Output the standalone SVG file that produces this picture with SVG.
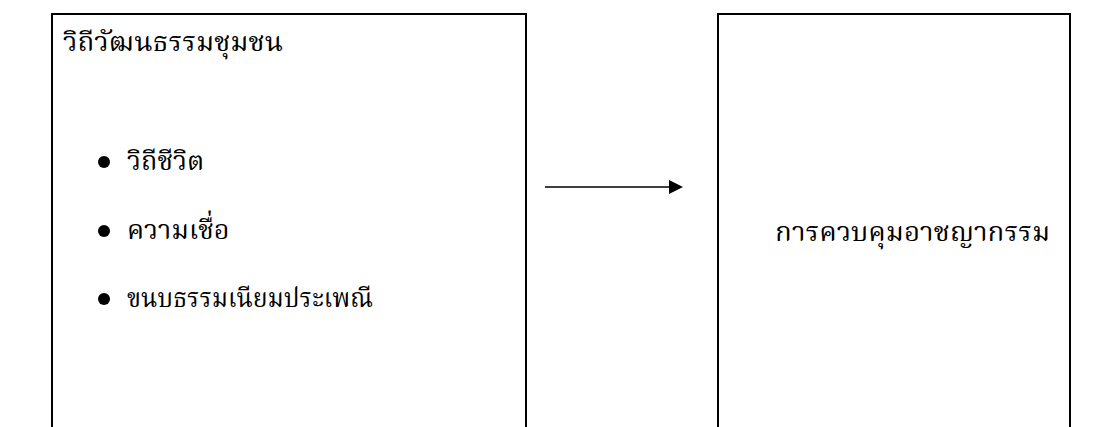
<svg xmlns="http://www.w3.org/2000/svg" width="1120" height="427" viewBox="0 0 1120 427">
<defs>
<style>
.box{fill:none;stroke:#000;stroke-width:2}
.t{font-family:"Noto Serif Thai","Noto Sans Thai","Liberation Serif",serif;font-size:27px;fill:#000}
</style>
<marker id="ah" markerWidth="14" markerHeight="14" refX="0" refY="7" orient="auto" markerUnits="userSpaceOnUse">
<path d="M0,0 L14,7 L0,14 Z" fill="#000"/>
</marker>
</defs>
<rect width="1120" height="427" fill="#fff"/>
<g id="node-left">
<path class="box" d="M52,440 V14 H526 V440"/>
<text class="t" x="63" y="51" textLength="220" lengthAdjust="spacingAndGlyphs">วิถีวัฒนธรรมชุมชน</text>
<circle cx="104" cy="162" r="6"/>
<text class="t" x="127" y="170">วิถีชีวิต</text>
<circle cx="104" cy="231" r="6"/>
<text class="t" x="127" y="239">ความเชื่อ</text>
<circle cx="104" cy="299" r="6"/>
<text class="t" x="127" y="307" textLength="246" lengthAdjust="spacingAndGlyphs">ขนบธรรมเนียมประเพณี</text>
</g>
<g id="node-right">
<path class="box" d="M718,440 V14 H1070 V440"/>
<text class="t" x="775" y="241" textLength="275" lengthAdjust="spacingAndGlyphs">การควบคุมอาชญากรรม</text>
</g>
<g id="connectors">
<line x1="545" y1="187" x2="669" y2="187" stroke="#000" stroke-width="1.5" marker-end="url(#ah)"/>
</g>
</svg>
